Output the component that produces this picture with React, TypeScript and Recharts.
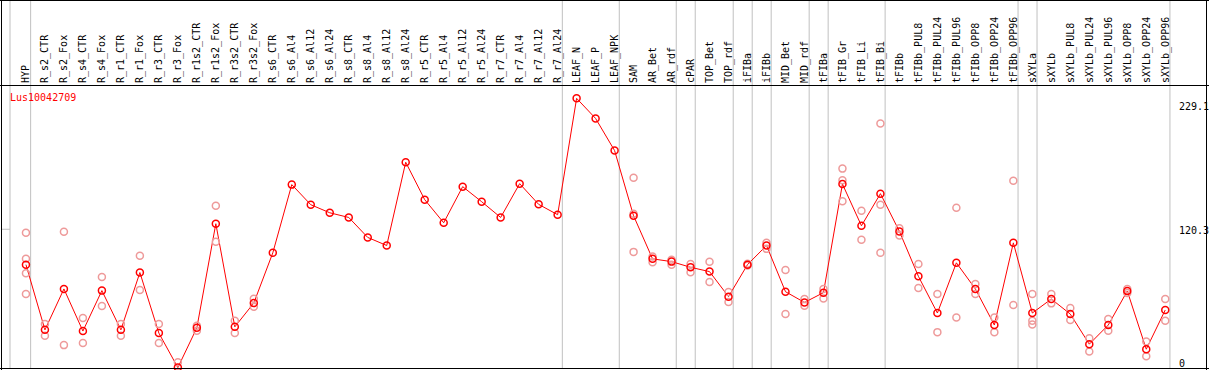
import { ComposedChart, Line, Scatter, XAxis, YAxis, ReferenceLine } from "recharts";

const geneId = "Lus10042709";

const categories = [
  "HYP", "R_s2_CTR", "R_s2_Fox", "R_s4_CTR", "R_s4_Fox", "R_r1_CTR", "R_r1_Fox", "R_r3_CTR", "R_r3_Fox",
  "R_r1s2_CTR", "R_r1s2_Fox", "R_r3s2_CTR", "R_r3s2_Fox", "R_s6_CTR", "R_s6_Al4", "R_s6_Al12", "R_s6_Al24",
  "R_s8_CTR", "R_s8_Al4", "R_s8_Al12", "R_s8_Al24", "R_r5_CTR", "R_r5_Al4", "R_r5_Al12", "R_r5_Al24",
  "R_r7_CTR", "R_r7_Al4", "R_r7_Al12", "R_r7_Al24", "LEAF_N", "LEAF_P", "LEAF_NPK", "SAM", "AR_Bet", "AR_rdf",
  "cPAR", "TOP_Bet", "TOP_rdf", "iFIBa", "iFIBb", "MID_Bet", "MID_rdf", "tFIBa", "tFIB_Gr", "tFIB_Li", "tFIB_Bi",
  "tFIBb", "tFIBb_PUL8", "tFIBb_PUL24", "tFIBb_PUL96", "tFIBb_OPP8", "tFIBb_OPP24", "tFIBb_OPP96", "sXYLa",
  "sXYLb", "sXYLb_PUL8", "sXYLb_PUL24", "sXYLb_PUL96", "sXYLb_OPP8", "sXYLb_OPP24", "sXYLb_OPP96",
];

// mean expression per sample
const means = [
  90.9, 36.7, 70.7, 35.7, 69.3, 36.7, 84.3, 34.0, 5.3, 38.4, 124.9, 39.2, 59.0,
  100.7, 157.4, 140.7, 134.0, 130.1, 113.5, 106.8, 176.0, 144.9, 125.7, 155.7, 143.2,
  130.1, 158.2, 141.0, 132.4, 229.1, 212.4, 185.7, 131.5, 95.7, 93.4, 88.7, 85.1, 64.3,
  90.9, 106.8, 68.4, 59.5, 67.6, 157.9, 123.2, 149.9, 118.5, 81.2, 50.7, 92.4, 70.7,
  40.7, 109.0, 50.7, 62.3, 49.8, 24.8, 40.7, 69.0, 20.6, 53.2,
];

// individual replicates (empty = not shown)
const replicates: number[][] = [
  [117.4, 95.7, 83.7, 66.5], [41.5, 31.7], [118.2, 24.0], [46.5, 25.7], [80.7, 56.5], [41.5, 31.7],
  [98.2, 69.8], [41.5, 25.7], [9.8, 1.0], [40.1, 35.9], [139.9, 109.9], [44.2, 34.0], [62.6, 55.9],
  [], [], [], [], [], [], [], [], [], [], [], [], [], [], [], [], [], [], [],
  [163.2, 133.2, 101.5], [92.9, 97.6], [94.9, 90.9], [91.5, 84.5], [93.2, 76.5], [68.2, 59.8],
  [90.1, 91.7], [109.0, 104.0], [86.5, 49.8], [62.3, 56.8], [70.7, 62.8], [170.7, 161.0, 143.5],
  [135.7, 111.5], [208.3, 140.7, 100.7], [121.2, 115.1], [91.5, 71.5], [66.5, 34.8], [138.2, 47.0],
  [74.8, 66.5], [47.0, 34.8], [160.7, 57.3], [66.5, 44.2, 41.2], [66.5, 58.7], [54.8, 44.8],
  [29.8, 18.7], [45.7, 35.9], [70.7, 67.3], [27.0, 14.8], [62.3, 44.2],
];

// last sample of each group; a grey separator follows it
const groupEnds = [0, 28, 31, 34, 35, 37, 38, 39, 41, 42, 45, 52, 53, 60];
const yTicks = [0, 120.3, 229.1];

const meanRows = means.map((v, i) => ({ x: i, mean: v }));
const repRows = replicates.flatMap((reps, i) => reps.map((v) => ({ x: i, y: v })));

const FONT = "'DejaVu Sans Mono', monospace";
const GRID = "#c0c0c0";
const X_MIN = -0.84;

const fullHeightLine = (p: any) => (
  <line x1={p.x1} x2={p.x1} y1={0} y2={369} stroke={GRID} strokeWidth={1} />
);
const wideHLine = (p: any) => (
  <line x1={2} x2={p.x2} y1={p.y1} y2={p.y1} stroke={GRID} strokeWidth={1} />
);

function CategoryTick({ x, payload }: any) {
  return (
    <text
      transform={`translate(${x + 3.5},83) rotate(-90)`}
      fontSize={10}
      fontFamily={FONT}
      fill="#000"
      textAnchor="start"
    >
      {categories[payload.value]}
    </text>
  );
}

const yLabelShift: Record<string, number> = { "0": -7.5, "120.3": 5.2, "229.1": 12 };

function ValueTick({ y, payload }: any) {
  return (
    <text x={1179} y={y + (yLabelShift[String(payload.value)] ?? 0)} fontSize={10} fontFamily={FONT} fill="#000">
      {payload.value}
    </text>
  );
}

export default function App() {
  return (
    <div style={{ position: "relative", width: 1209, height: 370, overflow: "hidden", background: "#fff" }}>
      <style>{"body{margin:0}"}</style>
      <ComposedChart width={1209} height={374} data={meanRows} margin={{ top: 0, right: 0, bottom: 0, left: 10 }}>
        <XAxis
          type="number"
          dataKey="x"
          orientation="top"
          height={85}
          domain={[X_MIN, 60.25]}
          allowDataOverflow
          ticks={categories.map((_, i) => i)}
          interval={0}
          axisLine={false}
          tickLine={false}
          tick={<CategoryTick />}
        />
        <YAxis
          type="number"
          orientation="right"
          width={39}
          domain={[0, 240.2]}
          allowDataOverflow
          ticks={yTicks}
          interval={0}
          axisLine={false}
          tickLine={false}
          tick={<ValueTick />}
        />
        <ReferenceLine x={X_MIN} shape={fullHeightLine} />
        {groupEnds.map((k) => (
          <ReferenceLine key={k} x={k + 0.247} shape={fullHeightLine} />
        ))}
        <ReferenceLine y={120.3} shape={wideHLine} />
        <Scatter
          data={repRows}
          dataKey="y"
          isAnimationActive={false}
          shape={(p: any) => (
            <circle cx={p.cx} cy={p.cy} r={3.5} fill="none" stroke="#ee9a9a" strokeWidth={1.5} />
          )}
        />
        <Line
          type="linear"
          dataKey="mean"
          stroke="#ff0000"
          strokeWidth={1}
          isAnimationActive={false}
          dot={{ r: 3.5, stroke: "#ff0000", strokeWidth: 1.5, fill: "none" }}
          activeDot={false}
        />
      </ComposedChart>
      <svg width={1209} height={370} style={{ position: "absolute", left: 0, top: 0, pointerEvents: "none" }}>
        <text x={10} y={101} fontSize={10} fontFamily={FONT} fill="#ff0000">
          {geneId}
        </text>
        <line x1={0} x2={1209} y1={0.5} y2={0.5} stroke="#000" />
        <line x1={0} x2={1209} y1={85.5} y2={85.5} stroke="#000" />
        <line x1={0} x2={1209} y1={368.5} y2={368.5} stroke="#000" />
        <line x1={1.5} x2={1.5} y1={0} y2={370} stroke="#000" />
        <line x1={1206.5} x2={1206.5} y1={0} y2={370} stroke="#000" />
      </svg>
    </div>
  );
}
